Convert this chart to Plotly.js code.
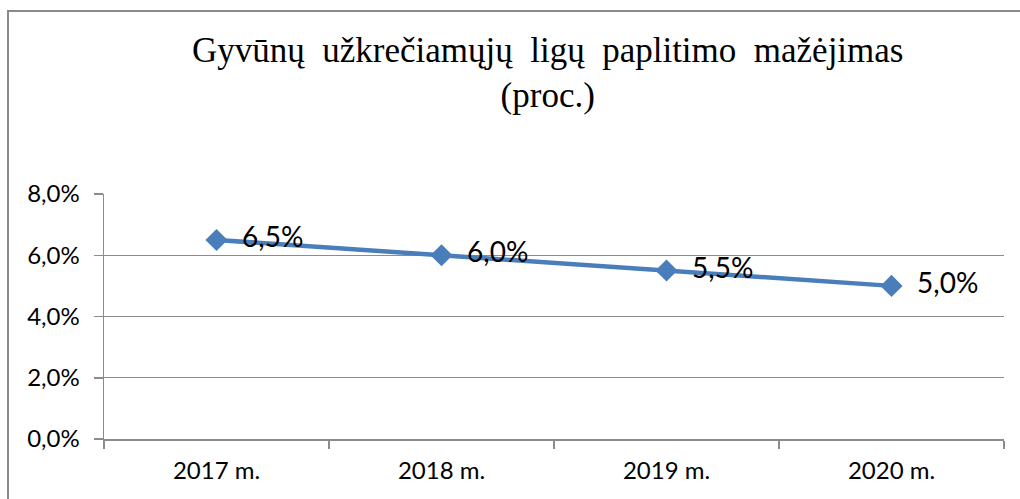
<!DOCTYPE html>
<html><head><meta charset="utf-8">
<script src="https://cdn.plot.ly/plotly-3.0.1.min.js"></script>
<style>
html,body{margin:0;padding:0;background:#fff;}
#wrap{position:relative;width:1020px;height:499px;overflow:hidden;}
#chart{position:absolute;left:0;top:0;width:1020px;height:499px;}
#frame{position:absolute;left:7px;top:10px;width:1100px;height:600px;border-left:2px solid #8a8a8a;border-top:2px solid #8a8a8a;pointer-events:none;}
</style></head>
<body><div id="wrap"><div id="chart"></div><div id="frame"></div></div>
<script>
const categories = ["2017 m.", "2018 m.", "2019 m.", "2020 m."];
const values = [6.5, 6.0, 5.5, 5.0];
const yTicks = [0, 2, 4, 6, 8];
const titleText = "Gyvūnų&nbsp; užkrečiamųjų&nbsp; ligų&nbsp; paplitimo&nbsp; mažėjimas<br>(proc.)";

const fmt = v => v.toFixed(1).replace('.', ',') + '%';
const labels = values.map(v => '\u2002' + fmt(v));
const yTickText = yTicks.map(fmt);

const trace = {
  x: categories, y: values, type: 'scatter', mode: 'lines+markers+text',
  line: {color: '#4A7EBB', width: 4.5},
  marker: {symbol: 'diamond', size: 17, color: '#4A7EBB'},
  text: labels, textposition: 'middle right',
  textfont: {family: 'Lato, sans-serif', size: 28, color: '#000'},
  cliponaxis: false, hoverinfo: 'skip'
};

const layout = {
  width: 1020, height: 499,
  margin: {l: 104, r: 16, t: 194, b: 60},
  paper_bgcolor: '#fff', plot_bgcolor: '#fff',
  showlegend: false,
  title: {text: titleText, font: {family: '"Liberation Serif", "Times New Roman", serif', size: 35, color: '#000'},
          x: 0.537, xanchor: 'center', y: 0.876, yanchor: 'top', yref: 'container'},
  xaxis: {type: 'category', range: [-0.5, 3.5], showgrid: false, showline: true, linecolor: '#8c8c8c', linewidth: 1.5,
          ticks: 'outside', tickson: 'boundaries', ticklen: 8, tickcolor: '#8c8c8c', tickwidth: 1.5,
          tickfont: {family: 'Lato, sans-serif', size: 24, color: '#000'}, ticklabelstandoff: 10, zeroline: false, fixedrange: true},
  yaxis: {range: [0, 8], tickvals: yTicks, ticktext: yTickText, showgrid: true, gridcolor: '#8c8c8c', gridwidth: 1,
          showline: true, linecolor: '#8c8c8c', linewidth: 1.5, ticks: 'outside', ticklen: 9, tickcolor: '#8c8c8c', tickwidth: 1.5,
          tickfont: {family: 'Lato, sans-serif', size: 24, color: '#000'}, ticklabelstandoff: 9, zeroline: false, fixedrange: true}
};

Plotly.newPlot('chart', [trace], layout, {displayModeBar: false, staticPlot: true});
</script></body></html>
